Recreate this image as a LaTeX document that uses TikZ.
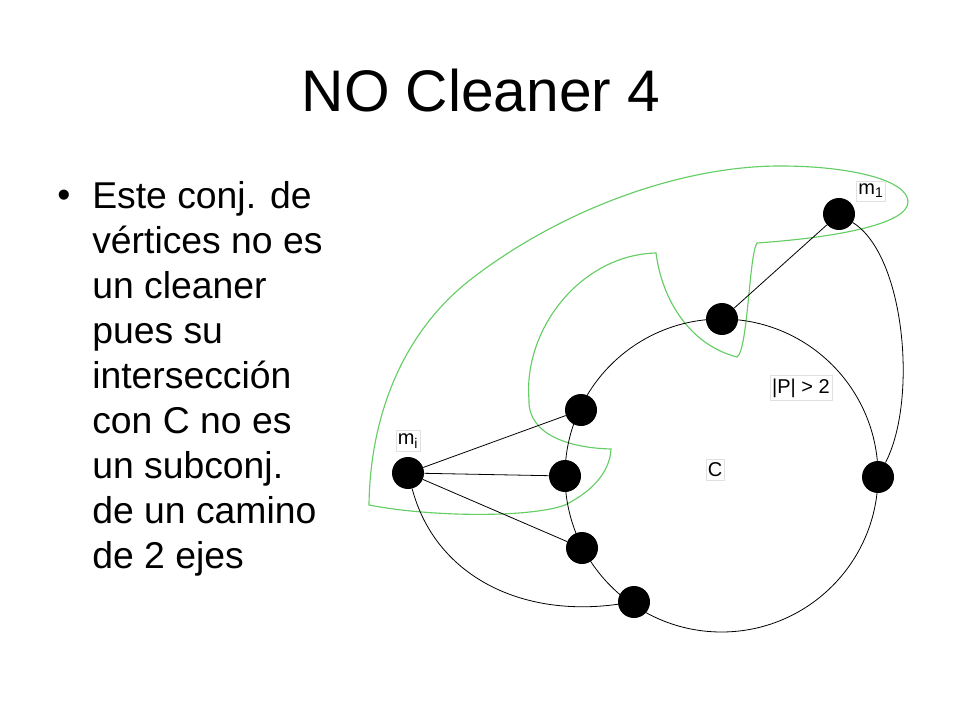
\documentclass[tikz,border=0pt]{standalone}
\usepackage{fontspec}
\setmainfont{Liberation Sans}
\usepackage{tikz}
\definecolor{verdeclaro}{RGB}{100,205,100}
\tikzset{vert/.style = {fill, circle, inner sep = 0, minimum size = 24}}
\tikzset{etiq/.style = {draw=black!12, line width=0.4pt, inner xsep=1.5pt, inner ysep=2.5pt, font=\fontsize{15}{17}\selectfont}}
\tikzset{arista/.style = {line width=0.6pt}}
\tikzset{verde/.style = {draw=verdeclaro, line width=0.85pt}}

\begin{document}
\begin{tikzpicture}[x=0.75pt, y=-0.75pt]
    \useasboundingbox (0, 0) rectangle (960, 720);

    \node (titulo) [anchor=base, font=\fontsize{44}{52}\selectfont] at (481, 112) {NO Cleaner 4};
    \node (bala) [anchor=base west, inner sep=0, font=\fontsize{28}{33.75}\selectfont] at (57, 208) {\textbullet};
    \node (texto) [anchor=base west, inner sep=0, align=left, font=\fontsize{28}{33.75}\selectfont] at (92, 568.3)
        {Este conj. de\\vértices no es\\un cleaner\\pues su\\intersección\\con C no es\\un subconj.\\de un camino\\de 2 ejes};

    \draw [verde] (369, 505) .. controls (430, 517) and (530, 518) .. (565, 505)
        .. controls (595, 490) and (610, 470) .. (611, 449)
        .. controls (570, 448) and (528, 435) .. (529, 400)
        .. controls (523, 330) and (580, 255) .. (656, 253)
        .. controls (662, 300) and (690, 345) .. (737, 357)
        .. controls (748, 350) and (749, 255) .. (757, 243)
        .. controls (830, 238) and (908, 225) .. (908, 202)
        .. controls (908, 180) and (850, 166) .. (780, 166)
        .. controls (680, 166) and (560, 210) .. (470, 280)
        .. controls (400, 335) and (370, 420) .. cycle;

    \coordinate (centro) at (721.5, 475.5);
    \draw [arista] (centro) circle [radius=156.5];

    \node [vert] (m1) at (839, 214) {};
    \node [vert] (v2) at (722, 319) {};
    \node [vert] (v3) at (581, 410) {};
    \node [vert] (mi) at (408, 473) {};
    \node [vert] (v4) at (565, 476) {};
    \node [vert] (v5) at (582, 548) {};
    \node [vert] (v6) at (634, 602) {};
    \node [vert] (vd) at (878, 477) {};

    \draw [arista] (m1) -- (v2);
    \draw [arista] (mi) -- (v3);
    \draw [arista] (mi) -- (v4);
    \draw [arista] (mi) -- (v5);
    \draw [arista] (mi) .. controls (435, 575) and (520, 618) .. (v6);
    \draw [arista] (m1) .. controls (905, 255) and (918, 400) .. (vd);

    \node [etiq] (lm1) at (871, 191) {m\textsubscript{1}};
    \node [etiq] (lmi) at (408, 441) {m\textsubscript{i}};
    \node [etiq] (lp) at (801, 388) {|P| > 2};
    \node [etiq] (lc) at (715, 470) {C};
\end{tikzpicture}
\end{document}
